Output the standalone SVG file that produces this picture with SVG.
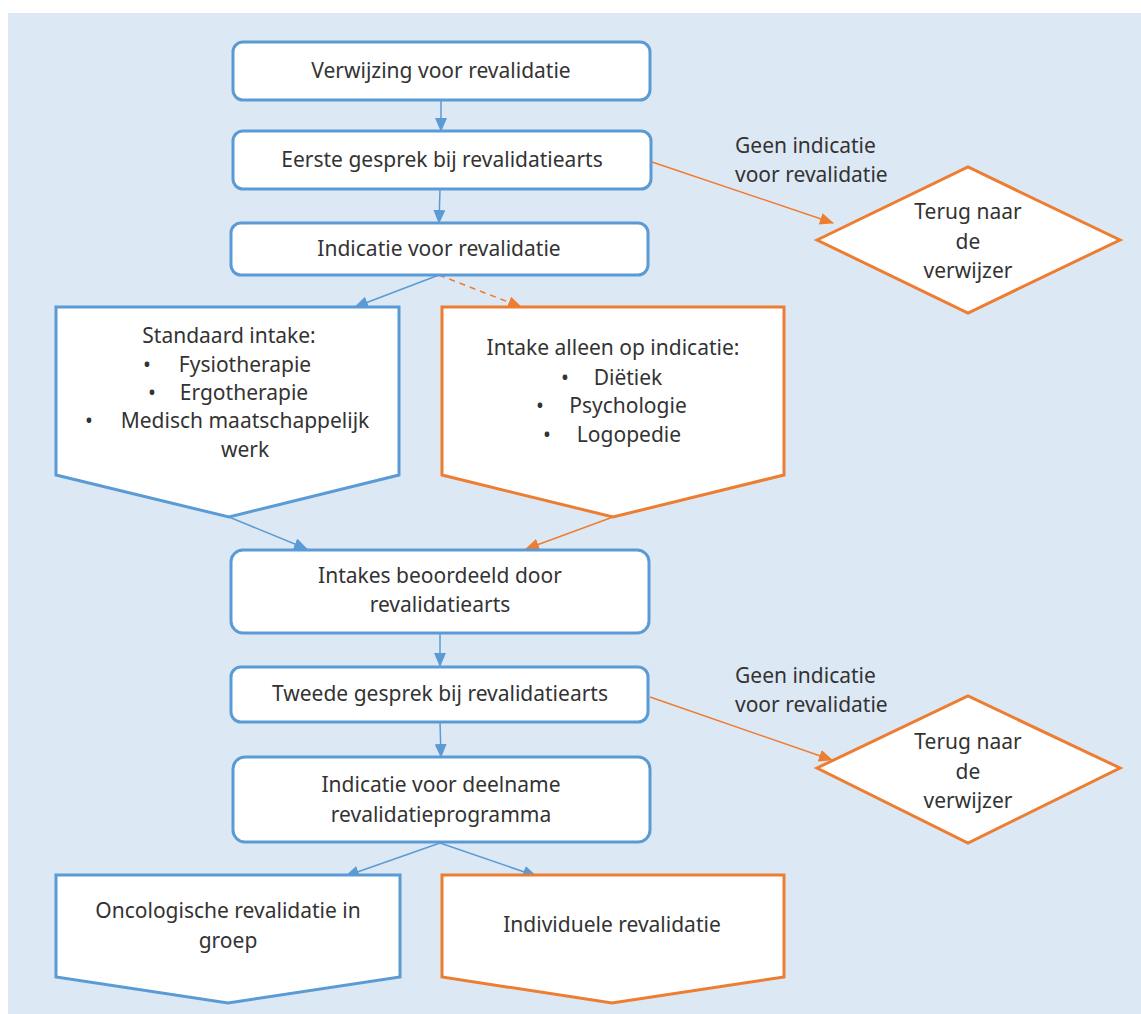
<svg xmlns="http://www.w3.org/2000/svg" width="1141" height="1014" viewBox="0 0 1141 1014">
<defs>
<style>
text{font-family:"Noto Sans","Open Sans","Liberation Sans",sans-serif;font-size:21px;fill:#333;text-anchor:middle}
.lbl{text-anchor:start}
.bx{fill:#fff;stroke:#5b9bd5;stroke-width:3}
.or{fill:#fff;stroke:#ed7d31;stroke-width:3}
.eb{stroke:#5b9bd5;stroke-width:1.5;fill:none}
.eo{stroke:#ed7d31;stroke-width:1.5;fill:none}
</style>
<marker id="ab" markerUnits="userSpaceOnUse" markerWidth="14" markerHeight="12" refX="13" refY="6" orient="auto"><path d="M0,0L14,6L0,12z" fill="#5b9bd5"/></marker>
<marker id="ao" markerUnits="userSpaceOnUse" markerWidth="14" markerHeight="12" refX="13" refY="6" orient="auto"><path d="M0,0L14,6L0,12z" fill="#ed7d31"/></marker>
</defs>
<rect x="8" y="13" width="1133" height="1001" fill="#dde8f5"/>
<g id="connectors">
<path class="eb" d="M441,100L441,131" marker-end="url(#ab)"/>
<path class="eb" d="M440,189L439,223" marker-end="url(#ab)"/>
<path class="eo" d="M652,162L833,223" marker-end="url(#ao)"/>
<path class="eb" d="M439,275L355,307" marker-end="url(#ab)"/>
<path class="eo" d="M439,275L521,307" stroke-dasharray="6,5" marker-end="url(#ao)"/>
<path class="eb" d="M229,517L307,549" marker-end="url(#ab)"/>
<path class="eo" d="M613,517L526,549" marker-end="url(#ao)"/>
<path class="eb" d="M440,633L440,666" marker-end="url(#ab)"/>
<path class="eo" d="M650,697L832,760" marker-end="url(#ao)"/>
<path class="eb" d="M440,722L441,757" marker-end="url(#ab)"/>
<path class="eb" d="M440,843L346,876" marker-end="url(#ab)"/>
<path class="eb" d="M440,843L536,876" marker-end="url(#ab)"/>
<text class="lbl" x="735" y="153">Geen indicatie</text>
<text class="lbl" x="735" y="182">voor revalidatie</text>
<text class="lbl" x="735" y="683">Geen indicatie</text>
<text class="lbl" x="735" y="712">voor revalidatie</text>
</g>
<g id="n1"><rect class="bx" x="233" y="42" width="417" height="58" rx="10"/><text x="441" y="78">Verwijzing voor revalidatie</text></g>
<g id="n2"><rect class="bx" x="233" y="131" width="418" height="58" rx="10"/><text x="442" y="167">Eerste gesprek bij revalidatiearts</text></g>
<g id="n3"><rect class="bx" x="231" y="223" width="417" height="52" rx="10"/><text x="439" y="256">Indicatie voor revalidatie</text></g>
<g id="d1"><polygon class="or" points="817,240 968,167 1120,240 968,313"/><text x="968" y="219">Terug naar</text><text x="968" y="249">de</text><text x="968" y="278">verwijzer</text></g>
<g id="p1"><polygon class="bx" points="56,307 399,307 399,475 229,517 56,475"/>
<text x="229" y="343">Standaard intake:</text>
<text x="147" y="372">•</text><text x="245" y="372">Fysiotherapie</text>
<text x="152" y="400">•</text><text x="244" y="400">Ergotherapie</text>
<text x="89" y="428">•</text><text x="245" y="428">Medisch maatschappelijk</text>
<text x="245" y="457">werk</text></g>
<g id="p2"><polygon class="or" points="442,307 784,307 784,475 613,517 442,475"/>
<text x="613" y="355">Intake alleen op indicatie:</text>
<text x="565" y="385">•</text><text x="628" y="385">Diëtiek</text>
<text x="540" y="413">•</text><text x="628" y="413">Psychologie</text>
<text x="547" y="442">•</text><text x="629" y="442">Logopedie</text></g>
<g id="n4"><rect class="bx" x="231" y="550" width="418" height="83" rx="12"/><text x="440" y="583">Intakes beoordeeld door</text><text x="440" y="612">revalidatiearts</text></g>
<g id="n5"><rect class="bx" x="231" y="667" width="417" height="55" rx="10"/><text x="440" y="701">Tweede gesprek bij revalidatiearts</text></g>
<g id="d2"><polygon class="or" points="817,768 968,696 1120,768 968,843"/><text x="968" y="749">Terug naar</text><text x="968" y="779">de</text><text x="968" y="808">verwijzer</text></g>
<g id="n6"><rect class="bx" x="233" y="757" width="417" height="85" rx="12"/><text x="441" y="792">Indicatie voor deelname</text><text x="441" y="822">revalidatieprogramma</text></g>
<g id="p3"><polygon class="bx" points="56,875 400,875 400,977 228,1003 56,977"/><text x="228" y="918">Oncologische revalidatie in</text><text x="228" y="948">groep</text></g>
<g id="p4"><polygon class="or" points="442,875 784,875 784,977 612,1003 442,977"/><text x="612" y="932">Individuele revalidatie</text></g>
</svg>
